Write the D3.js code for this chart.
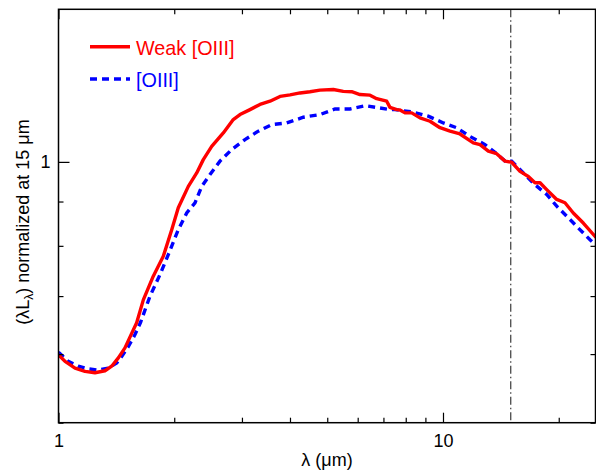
<!DOCTYPE html>
<html><head><meta charset="utf-8">
<script src="https://cdn.jsdelivr.net/npm/d3@7"></script>
<style>
body{margin:0;background:#fff;}
svg{display:block;font-family:"Liberation Sans",Arial,Helvetica,sans-serif;}
</style></head>
<body><svg id="c" width="596" height="470"></svg>
<script>
// Data
const weakLambda = [1.00,1.040,1.104,1.172,1.244,1.321,1.375,1.431,1.489,1.550,1.597,1.662,1.764,1.873,1.970,2.049,2.176,2.288,2.380,2.503,2.683,2.848,2.965,3.148,3.342,3.549,3.768,4.001,4.248,4.508,4.786,5.184,5.504,5.788,6.083,6.459,6.723,7.138,7.280,7.580,7.730,7.965,8.291,8.712,9.251,9.822,10.43,11.07,11.99,12.48,13.12,13.79,14.50,15.09,15.86,16.67,17.35,17.88,18.61,19.76,20.76,21.82,23.17,25.0];
const weakValue  = [0.599,0.5885,0.578,0.573,0.571,0.574,0.581,0.594,0.610,0.634,0.652,0.693,0.738,0.778,0.835,0.885,0.937,0.971,1.006,1.042,1.080,1.119,1.134,1.149,1.165,1.175,1.190,1.195,1.201,1.205,1.210,1.212,1.206,1.205,1.196,1.194,1.183,1.175,1.156,1.149,1.148,1.139,1.139,1.124,1.114,1.095,1.085,1.077,1.052,1.047,1.029,1.022,1.002,0.999,0.975,0.962,0.946,0.946,0.929,0.905,0.897,0.873,0.850,0.818];
const oiiiLambda = [1.00,1.060,1.126,1.195,1.269,1.347,1.417,1.460,1.519,1.581,1.635,1.729,1.836,1.930,2.049,2.155,2.265,2.358,2.478,2.630,2.821,3.055,3.308,3.585,3.923,4.333,4.786,5.237,5.730,6.268,6.857,7.280,7.502,8.291,9.157,10.02,10.85,11.75,12.86,13.79,14.50,15.09,16.18,17.35,18.61,19.76,21.18,22.48,24.12,25.0];
const oiiiValue  = [0.603,0.5885,0.581,0.577,0.575,0.578,0.586,0.596,0.612,0.632,0.653,0.6995,0.741,0.7815,0.835,0.873,0.897,0.937,0.967,1.002,1.033,1.061,1.085,1.104,1.109,1.126,1.134,1.151,1.151,1.161,1.154,1.149,1.149,1.142,1.129,1.109,1.095,1.070,1.047,1.022,1.002,1.002,0.971,0.941,0.917,0.889,0.862,0.839,0.813,0.802];
const xMajorTicks = [1, 10];
const xMinorTicks = [2,3,4,5,6,7,8,9,20];
const yMajorTicks = [1];
const yMinorTicks = [0.5,0.6,0.7,0.8,0.9];
const normLambda = 15;
const seriesNames = ["Weak [OIII]", "[OIII]"];

const svg = d3.select("#c");
const L = 58.5, R = 595.5, T = 9.3, B = 422.7;
const x = d3.scaleLog().domain([1, 25]).range([L, 596]);
const y = d3.scaleLog().domain([0.5, 1.5]).range([B, T]);

const g = svg.append("g");
svg.append("clipPath").attr("id","clp").append("rect")
  .attr("x", L).attr("y", T).attr("width", R - L).attr("height", B - T);

// vertical dash-dot line at normalization wavelength
g.append("line").attr("x1", x(normLambda)).attr("x2", x(normLambda))
  .attr("y1", T).attr("y2", B)
  .attr("stroke", "#555").attr("stroke-width", 1.4)
  .attr("stroke-dasharray", "8,3,1.5,3");

const line = d3.line().x(d => x(d[0])).y(d => y(d[1]));
const curves = g.append("g").attr("clip-path", "url(#clp)");
curves.append("path").datum(oiiiLambda.map((l,i)=>[l, oiiiValue[i]]))
  .attr("d", line).attr("fill","none").attr("stroke","#0000ff")
  .attr("stroke-width",3.4).attr("stroke-dasharray","7,5");
curves.append("path").datum(weakLambda.map((l,i)=>[l, weakValue[i]]))
  .attr("d", line).attr("fill","none").attr("stroke","#ff0000")
  .attr("stroke-width",3.4).attr("stroke-linejoin","round");

// axes with inward ticks
function styleAxis(sel){
  sel.select(".domain").remove();
  sel.selectAll("line").attr("stroke","#000").attr("stroke-width",1.2);
  sel.selectAll("text").attr("fill","#000").attr("font-size","18px")
     .attr("font-family",'"Liberation Sans",Arial,Helvetica,sans-serif');
}
const fmt = d => d3.format("d")(d);
svg.append("g").attr("transform",`translate(0,${B})`)
  .call(d3.axisBottom(x).tickValues(xMajorTicks).tickSize(-10).tickPadding(12).tickFormat(fmt))
  .call(styleAxis);
svg.append("g").attr("transform",`translate(0,${B})`)
  .call(d3.axisBottom(x).tickValues(xMinorTicks).tickSize(-5).tickFormat(""))
  .call(styleAxis);
svg.append("g").attr("transform",`translate(0,${T})`)
  .call(d3.axisTop(x).tickValues(xMajorTicks).tickSize(-10).tickFormat(""))
  .call(styleAxis);
svg.append("g").attr("transform",`translate(0,${T})`)
  .call(d3.axisTop(x).tickValues(xMinorTicks).tickSize(-5).tickFormat(""))
  .call(styleAxis);
svg.append("g").attr("transform",`translate(${L},0)`)
  .call(d3.axisLeft(y).tickValues(yMajorTicks).tickSize(-11).tickPadding(8).tickFormat(fmt))
  .call(styleAxis);
svg.append("g").attr("transform",`translate(${L},0)`)
  .call(d3.axisLeft(y).tickValues(yMinorTicks).tickSize(-5).tickFormat(""))
  .call(styleAxis);
svg.append("g").attr("transform",`translate(${R},0)`)
  .call(d3.axisRight(y).tickValues(yMajorTicks).tickSize(-10).tickFormat(""))
  .call(styleAxis);
svg.append("g").attr("transform",`translate(${R},0)`)
  .call(d3.axisRight(y).tickValues(yMinorTicks).tickSize(-5).tickFormat(""))
  .call(styleAxis);

// frame
svg.append("rect").attr("x",L).attr("y",T).attr("width",R-L).attr("height",B-T)
  .attr("fill","none").attr("stroke","#000").attr("stroke-width",1.5);

// axis titles
svg.append("text").attr("x",(L+R)/2).attr("y",466).attr("text-anchor","middle")
  .attr("font-size","18px").text("λ (μm)");
const yt = svg.append("text").attr("transform",`translate(29,${(T+B)/2 + 6}) rotate(-90)`)
  .attr("text-anchor","middle").attr("font-size","18px");
yt.append("tspan").text("(λL");
yt.append("tspan").attr("font-size","12px").attr("dy",4).text("λ");
yt.append("tspan").attr("dy",-4).text(") normalized at 15 μm");

// legend
const leg = svg.append("g");
leg.append("line").attr("x1",90).attr("x2",130).attr("y1",46.7).attr("y2",46.7)
  .attr("stroke","#ff0000").attr("stroke-width",3.4);
leg.append("text").attr("x",136).attr("y",54.5).attr("fill","#ff0000")
  .attr("font-size","19.8px").text(seriesNames[0]);
leg.append("line").attr("x1",90).attr("x2",130).attr("y1",79).attr("y2",79)
  .attr("stroke","#0000ff").attr("stroke-width",3.4).attr("stroke-dasharray","7,5");
leg.append("text").attr("x",136).attr("y",87).attr("fill","#0000ff")
  .attr("font-size","19.8px").text(seriesNames[1]);
</script></body></html>
